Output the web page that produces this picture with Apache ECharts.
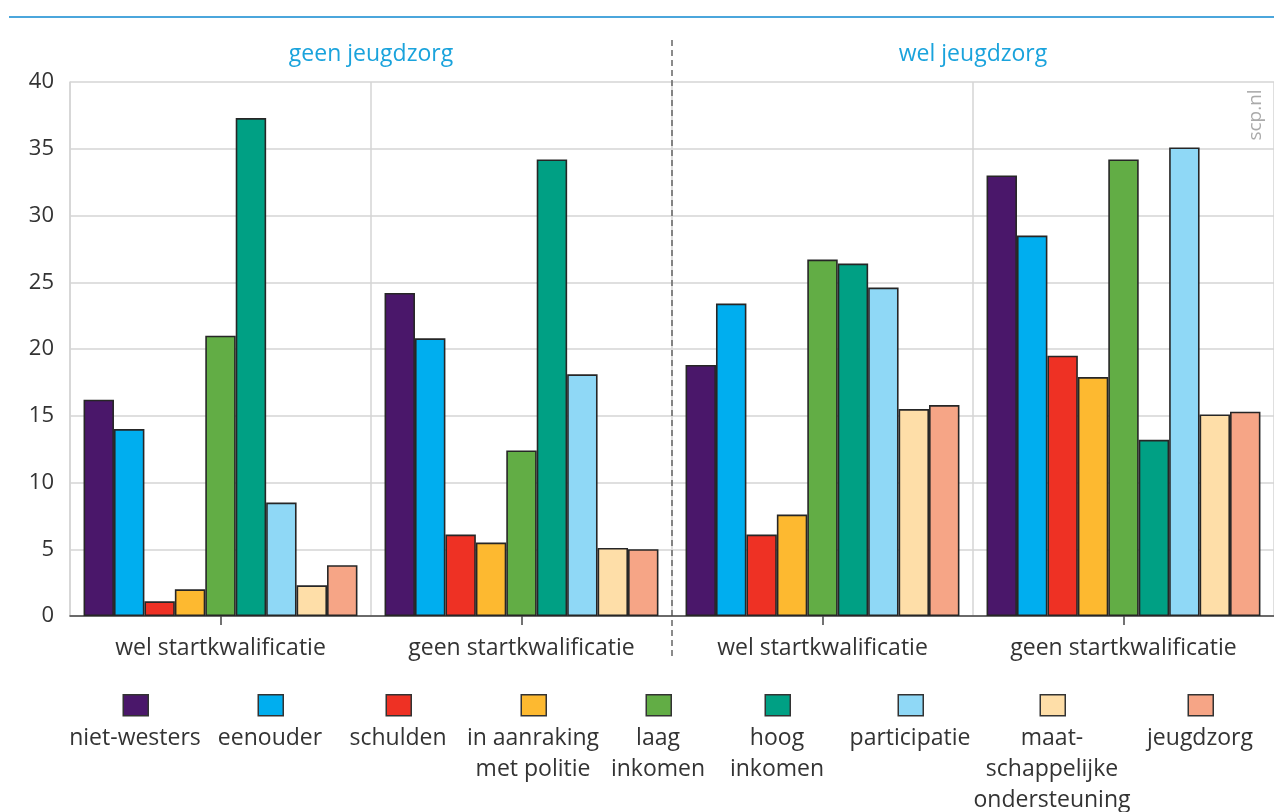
<!DOCTYPE html>
<html>
<head>
<meta charset="utf-8">
<script src="https://cdn.jsdelivr.net/npm/echarts@6/dist/echarts.min.js"></script>
<style>
  html, body { margin: 0; padding: 0; background: #ffffff; }
  #chart { width: 1274px; height: 812px; }
</style>
</head>
<body>
<div id="chart"></div>
<script>
// ---- data ----
const categories = ['wel startkwalificatie', 'geen startkwalificatie', 'wel startkwalificatie', 'geen startkwalificatie'];
const groupHeaders = ['geen jeugdzorg', 'wel jeugdzorg'];
const yTicks = [0, 5, 10, 15, 20, 25, 30, 35, 40];

const seriesNames = ['niet-westers', 'eenouder', 'schulden', 'in aanraking met politie', 'laag inkomen', 'hoog inkomen', 'participatie', 'maatschappelijke ondersteuning', 'jeugdzorg'];
const legendLabels = ['niet-westers', 'eenouder', 'schulden', 'in aanraking\nmet politie', 'laag\ninkomen', 'hoog\ninkomen', 'participatie', 'maat-\nschappelijke\nondersteuning', 'jeugdzorg'];

const nietWesters   = [16.2, 24.2, 18.8, 33.0];
const eenouder      = [14.0, 20.8, 23.4, 28.5];
const schulden      = [1.1, 6.1, 6.1, 19.5];
const politie       = [2.0, 5.5, 7.6, 17.9];
const laagInkomen   = [21.0, 12.4, 26.7, 34.2];
const hoogInkomen   = [37.3, 34.2, 26.4, 13.2];
const participatie  = [8.5, 18.1, 24.6, 35.1];
const maatschappij  = [2.3, 5.1, 15.5, 15.1];
const jeugdzorg     = [3.8, 5.0, 15.8, 15.3];

const seriesValues = [nietWesters, eenouder, schulden, politie, laagInkomen, hoogInkomen, participatie, maatschappij, jeugdzorg];

// ---- style ----
const colors = ['#4a176a', '#00aeef', '#ee3124', '#fdb930', '#62ad45', '#00a084', '#8fd8f6', '#fedea8', '#f6a586'];
const legendCenters = [135, 270, 398, 533, 658, 777, 910, 1052, 1200];
const FONT = '"Open Sans", "Noto Sans", sans-serif';
const TEXT = '#333333';

const chart = echarts.init(document.getElementById('chart'), null, { renderer: 'canvas' });

const series = seriesNames.map((name, i) => ({
  name: name,
  type: 'bar',
  data: seriesValues[i],
  barGap: '0%',
  barCategoryGap: '9%',
  itemStyle: { color: colors[i], borderColor: '#262626', borderWidth: 1.6 },
  emphasis: { disabled: true }
}));

const legends = seriesNames.map((name, i) => ({
  data: [name],
  left: legendCenters[i] - 12.5,
  top: 694,
  padding: 0,
  itemWidth: 25,
  itemHeight: 21,
  icon: 'rect',
  itemStyle: { borderColor: '#333333', borderWidth: 1.5 },
  formatter: function () { return ''; },
  selectedMode: false
}));

chart.setOption({
  animation: false,
  textStyle: { fontFamily: FONT },
  grid: { left: 70, right: 0, top: 82, bottom: 196, containLabel: false },
  xAxis: {
    type: 'category',
    data: categories,
    axisLine: { show: true, lineStyle: { color: '#444444', width: 1.5 } },
    axisTick: { show: true, alignWithLabel: true, length: 9, lineStyle: { color: '#444444', width: 1.5 } },
    axisLabel: { fontSize: 23, color: TEXT, fontFamily: FONT, margin: 21 },
    splitLine: { show: true, lineStyle: { color: '#d4d4d4', width: 1.5 } }
  },
  yAxis: {
    type: 'value',
    min: yTicks[0],
    max: yTicks[yTicks.length - 1],
    interval: 5,
    axisLine: { show: true, lineStyle: { color: '#d4d4d4', width: 1.5 } },
    axisTick: { show: false },
    axisLabel: { fontSize: 22, color: TEXT, fontFamily: FONT, margin: 16 },
    splitLine: { show: true, lineStyle: { color: '#d4d4d4', width: 1.5 } }
  },
  legend: legends,
  series: series
});

// ---- annotations positioned through the axis scale ----
const cx = categories.map((c, i) => chart.convertToPixel({ xAxisIndex: 0 }, i));
const y40 = chart.convertToPixel({ yAxisIndex: 0 }, 40);
const y0 = chart.convertToPixel({ yAxisIndex: 0 }, 0);
const divider = (cx[1] + cx[2]) / 2;

const graphics = [
  { type: 'line', shape: { x1: 9, y1: 17, x2: 1274, y2: 17 }, style: { stroke: '#4ba6dc', lineWidth: 2 }, silent: true },
  { type: 'line', shape: { x1: divider, y1: 40, x2: divider, y2: y0 + 44 }, style: { stroke: '#666666', lineWidth: 1.5, lineDash: [6, 4] }, silent: true },
  { type: 'text', x: (cx[0] + cx[1]) / 2, y: 54, style: { text: groupHeaders[0], fill: '#1aa3dc', font: '23px ' + FONT, textAlign: 'center', textVerticalAlign: 'middle' }, silent: true },
  { type: 'text', x: (cx[2] + cx[3]) / 2, y: 54, style: { text: groupHeaders[1], fill: '#1aa3dc', font: '23px ' + FONT, textAlign: 'center', textVerticalAlign: 'middle' }, silent: true },
  { type: 'text', x: 1256, y: y40 + 33, rotation: Math.PI / 2, style: { text: 'scp.nl', fill: '#aaaaaa', font: '19px ' + FONT, textAlign: 'center', textVerticalAlign: 'middle' }, silent: true }
];
legendLabels.forEach((lab, i) => {
  graphics.push({
    type: 'text', x: legendCenters[i], y: 723,
    style: { text: lab, fill: TEXT, font: '23px ' + FONT, textAlign: 'center', textVerticalAlign: 'top', lineHeight: 31 },
    silent: true
  });
});

chart.setOption({ graphic: graphics });
</script>
</body>
</html>
